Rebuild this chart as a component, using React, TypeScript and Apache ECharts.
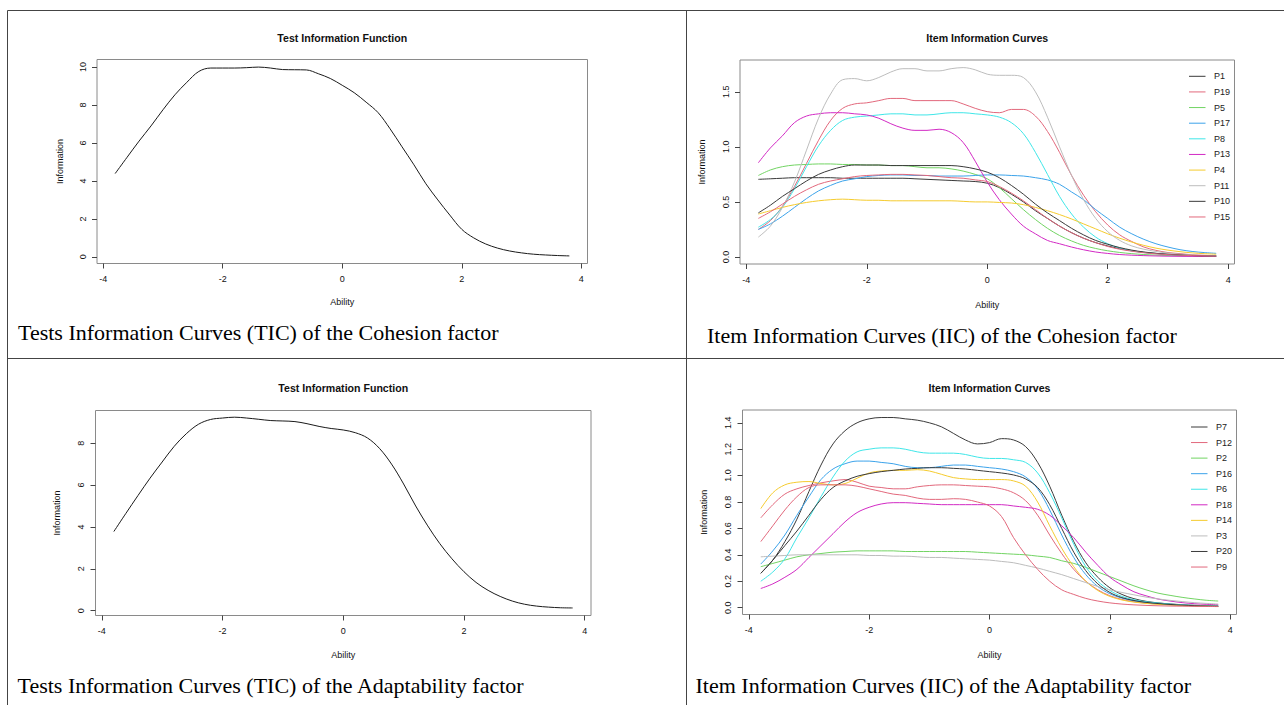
import React, { useEffect, useRef } from "react";
import * as echarts from "echarts";

// ---------- data ----------
const ability = [
  -3.8, -3.6, -3.4, -3.2, -3.0, -2.8, -2.6, -2.4, -2.2, -2.0,
  -1.8, -1.6, -1.4, -1.2, -1.0, -0.8, -0.6, -0.4, -0.2, 0.0,
  0.2, 0.4, 0.6, 0.8, 1.0, 1.2, 1.4, 1.6, 1.8, 2.0,
  2.2, 2.4, 2.6, 2.8, 3.0, 3.2, 3.4, 3.6, 3.8,
];

const xTicks = [-4, -2, 0, 2, 4];
const cohesionTicTicks = [0, 2, 4, 6, 8, 10];
const cohesionIicTicks = [0.0, 0.5, 1.0, 1.5];
const adaptTicTicks = [0, 2, 4, 6, 8];
const adaptIicTicks = [0.0, 0.2, 0.4, 0.6, 0.8, 1.0, 1.2, 1.4];

const cohesionTIC = [
  4.39, 5.25, 6.1, 6.9, 7.75, 8.54, 9.2, 9.77, 9.95, 9.95,
  9.95, 9.97, 10.0, 9.95, 9.87, 9.86, 9.85, 9.65, 9.4, 9.04,
  8.65, 8.15, 7.6, 6.75, 5.8, 4.85, 3.85, 3.0, 2.2, 1.45,
  1.0, 0.68, 0.46, 0.31, 0.21, 0.14, 0.1, 0.07, 0.05,
];

const adaptTIC = [
  3.78, 4.65, 5.5, 6.33, 7.1, 7.85, 8.45, 8.9, 9.13, 9.2,
  9.24, 9.2, 9.14, 9.08, 9.06, 9.03, 8.93, 8.8, 8.7, 8.63,
  8.5, 8.25, 7.75, 7.0, 6.05, 5.0, 4.05, 3.2, 2.48, 1.86,
  1.35, 0.97, 0.68, 0.46, 0.31, 0.22, 0.17, 0.14, 0.13,
];

// Cohesion items
const P1 = [0.705,0.71,0.715,0.72,0.72, 0.72,0.72,0.715,0.715,0.715, 0.715,0.715,0.715,0.71,0.705, 0.70,0.695,0.69,0.685,0.67, 0.63,0.57,0.50,0.42,0.35, 0.28,0.22,0.17,0.13,0.10, 0.075,0.056,0.042,0.032,0.024, 0.018,0.014,0.011,0.009];
const P19 = [0.25,0.33,0.46,0.64,0.85, 1.06,1.24,1.35,1.39,1.40, 1.42,1.44,1.44,1.42,1.42, 1.42,1.42,1.39,1.35,1.32, 1.31,1.34,1.34,1.28,1.14, 0.95,0.74,0.56,0.41,0.29, 0.20,0.14,0.09,0.06,0.04, 0.03,0.02,0.015,0.01];
const P5 = [0.74,0.79,0.82,0.835,0.84, 0.845,0.845,0.84,0.84,0.835, 0.835,0.83,0.83,0.82,0.81, 0.81,0.80,0.78,0.75,0.71, 0.63,0.53,0.43,0.34,0.26, 0.195,0.145,0.105,0.077,0.056, 0.041,0.03,0.022,0.017,0.013, 0.01,0.008,0.006,0.005];
const P17 = [0.25,0.30,0.37,0.45,0.53, 0.60,0.65,0.69,0.71,0.73, 0.74,0.745,0.745,0.74,0.74, 0.735,0.735,0.735,0.74,0.745, 0.745,0.74,0.735,0.72,0.70, 0.66,0.59,0.52,0.43,0.35, 0.27,0.21,0.16,0.12,0.09, 0.066,0.05,0.04,0.033];
const P8 = [0.27,0.34,0.45,0.62,0.82, 1.01,1.15,1.24,1.27,1.28, 1.29,1.30,1.30,1.29,1.29, 1.30,1.31,1.31,1.30,1.29, 1.27,1.22,1.12,0.95,0.75, 0.55,0.39,0.27,0.18,0.12, 0.08,0.055,0.04,0.03,0.02, 0.015,0.012,0.01,0.01];
const P13 = [0.855,0.99,1.10,1.22,1.28, 1.30,1.31,1.31,1.30,1.29, 1.26,1.21,1.17,1.15,1.15, 1.16,1.13,1.04,0.87,0.68, 0.52,0.39,0.28,0.21,0.15, 0.12,0.09,0.065,0.045,0.032, 0.022,0.016,0.012,0.009,0.007, 0.006,0.005,0.004,0.004];
const P4 = [0.39,0.42,0.45,0.475,0.495, 0.51,0.52,0.525,0.52,0.515, 0.515,0.51,0.51,0.51,0.51, 0.51,0.51,0.505,0.50,0.50, 0.495,0.49,0.475,0.45,0.42, 0.385,0.345,0.30,0.255,0.21, 0.17,0.135,0.105,0.08,0.062, 0.048,0.037,0.03,0.025];
const P11 = [0.18,0.28,0.45,0.68,0.97, 1.26,1.48,1.61,1.62,1.60, 1.63,1.68,1.71,1.71,1.69, 1.69,1.71,1.72,1.70,1.66, 1.65,1.65,1.63,1.50,1.27, 1.00,0.74,0.52,0.35,0.23, 0.15,0.10,0.07,0.05,0.035, 0.025,0.018,0.012,0.01];
const P10 = [0.40,0.47,0.55,0.62,0.69, 0.75,0.79,0.82,0.835,0.835, 0.835,0.83,0.83,0.83,0.83, 0.83,0.83,0.82,0.80,0.77, 0.72,0.65,0.57,0.48,0.40, 0.33,0.26,0.20,0.15,0.115, 0.085,0.062,0.045,0.033,0.024, 0.018,0.013,0.01,0.008];
const P15 = [0.35,0.41,0.48,0.55,0.61, 0.66,0.69,0.71,0.73,0.74, 0.745,0.75,0.75,0.745,0.74, 0.73,0.72,0.715,0.70,0.685, 0.64,0.58,0.51,0.43,0.35, 0.28,0.22,0.17,0.13,0.095, 0.07,0.052,0.038,0.028,0.021, 0.016,0.012,0.01,0.008];

// Adaptability items
const P7 = [0.26,0.36,0.50,0.67,0.88, 1.08,1.24,1.34,1.40,1.43, 1.44,1.44,1.43,1.42,1.40, 1.37,1.32,1.27,1.24,1.25, 1.28,1.27,1.22,1.10,0.92, 0.70,0.50,0.34,0.23,0.15, 0.10,0.068,0.048,0.036,0.028, 0.022,0.018,0.015,0.012];
const P12 = [0.68,0.78,0.86,0.90,0.925, 0.945,0.96,0.97,0.95,0.92, 0.91,0.90,0.90,0.915,0.925, 0.93,0.93,0.925,0.92,0.915, 0.90,0.87,0.81,0.70,0.55, 0.41,0.29,0.20,0.135,0.09, 0.062,0.045,0.034,0.027,0.022, 0.018,0.015,0.013,0.011];
const P2 = [0.31,0.335,0.36,0.385,0.40, 0.41,0.42,0.425,0.43,0.43, 0.43,0.43,0.425,0.425,0.425, 0.425,0.425,0.425,0.42,0.415, 0.41,0.405,0.40,0.39,0.38, 0.355,0.335,0.305,0.27,0.235, 0.20,0.165,0.135,0.11,0.093, 0.078,0.066,0.056,0.05];
const P16 = [0.33,0.43,0.55,0.70,0.84, 0.97,1.05,1.09,1.11,1.11, 1.10,1.09,1.07,1.06,1.06, 1.07,1.08,1.08,1.07,1.06, 1.05,1.03,0.99,0.90,0.74, 0.55,0.38,0.25,0.16,0.105, 0.072,0.052,0.039,0.03,0.023, 0.018,0.014,0.012,0.01];
const P6 = [0.20,0.27,0.37,0.53,0.68, 0.84,0.99,1.11,1.18,1.20, 1.21,1.21,1.20,1.18,1.17, 1.17,1.17,1.16,1.14,1.13, 1.13,1.12,1.10,1.02,0.87, 0.68,0.48,0.31,0.20,0.13, 0.085,0.06,0.045,0.035,0.027, 0.021,0.017,0.014,0.012];
const P18 = [0.145,0.18,0.23,0.29,0.38, 0.47,0.56,0.65,0.72,0.76, 0.785,0.795,0.795,0.79,0.785, 0.78,0.78,0.78,0.78,0.78, 0.78,0.77,0.76,0.745,0.70, 0.62,0.53,0.42,0.32,0.23, 0.17,0.12,0.09,0.065,0.05, 0.038,0.03,0.025,0.022];
const P14 = [0.75,0.87,0.93,0.95,0.955, 0.94,0.93,0.94,0.98,1.02, 1.035,1.04,1.04,1.045,1.035, 1.01,0.985,0.975,0.97,0.97, 0.97,0.96,0.92,0.80,0.62, 0.45,0.31,0.20,0.13,0.085, 0.058,0.042,0.032,0.025,0.02, 0.016,0.013,0.011,0.009];
const P3 = [0.385,0.39,0.395,0.40,0.40, 0.40,0.40,0.40,0.40,0.395, 0.395,0.39,0.39,0.385,0.38, 0.38,0.375,0.37,0.365,0.36, 0.35,0.34,0.32,0.30,0.275, 0.25,0.22,0.19,0.16,0.135, 0.115,0.097,0.08,0.066,0.055, 0.046,0.038,0.032,0.027];
const P20 = [0.26,0.36,0.47,0.58,0.70, 0.82,0.91,0.96,0.995,1.015, 1.03,1.04,1.05,1.055,1.06, 1.06,1.055,1.05,1.04,1.03, 1.02,1.005,0.975,0.91,0.78, 0.60,0.42,0.28,0.18,0.115, 0.076,0.054,0.04,0.031,0.024, 0.019,0.015,0.012,0.01];
const P9 = [0.50,0.62,0.74,0.84,0.91, 0.93,0.93,0.93,0.92,0.90, 0.88,0.86,0.85,0.83,0.82, 0.82,0.825,0.82,0.80,0.77, 0.69,0.53,0.40,0.29,0.20, 0.135,0.10,0.07,0.05,0.036, 0.027,0.021,0.017,0.014,0.012, 0.011,0.01,0.009,0.008];

const cohesionItemNames = ["P1", "P19", "P5", "P17", "P8", "P13", "P4", "P11", "P10", "P15"];
const cohesionItemValues = [P1, P19, P5, P17, P8, P13, P4, P11, P10, P15];
const adaptItemNames = ["P7", "P12", "P2", "P16", "P6", "P18", "P14", "P3", "P20", "P9"];
const adaptItemValues = [P7, P12, P2, P16, P6, P18, P14, P3, P20, P9];

// R default palette (slightly softened, as rendered)
const palette = ["#3a3a3a", "#E2687C", "#72D463", "#3CA3EA", "#3FE6E8", "#D22AC4", "#F5CB2E", "#BDBDBD"];

const W = 1284;
const H = 705;
const SANS = "'Liberation Sans', Arial, Helvetica, sans-serif";
const SERIF = "'Liberation Serif', 'Times New Roman', serif";

export default function App() {
  const ref = useRef<HTMLDivElement>(null);

  useEffect(() => {
    if (!ref.current) return;
    const chart = echarts.init(ref.current, null, { renderer: "svg", width: W, height: H });

    const boxes = [
      { left: 97, top: 59.5, width: 490.5, height: 204 },
      { left: 740, top: 60, width: 494.5, height: 204 },
      { left: 95.5, top: 410.5, width: 495.5, height: 205 },
      { left: 742.5, top: 410, width: 494, height: 204.5 },
    ];
    const yRanges = [
      [-0.35, 10.4],
      [-0.064, 1.789],
      [-0.23, 9.56],
      [-0.052, 1.497],
    ];
    const yTicks = [cohesionTicTicks, cohesionIicTicks, adaptTicTicks, adaptIicTicks];
    const yFmt = [
      (v: number) => String(v),
      (v: number) => v.toFixed(1),
      (v: number) => String(v),
      (v: number) => v.toFixed(1),
    ];

    const grid = boxes.map((b) => ({
      ...b,
      show: true,
      borderColor: "#8a8a8a",
      borderWidth: 1,
      backgroundColor: "transparent",
      containLabel: false,
    }));

    const xAxis = boxes.map((_, i) => ({
      type: "value",
      gridIndex: i,
      position: "bottom",
      min: -4.104,
      max: 4.104,
      axisLine: { show: false, onZero: false },
      splitLine: { show: false },
      axisTick: {
        show: true,
        length: 5,
        customValues: xTicks,
        lineStyle: { color: "#444", width: 1 },
      },
      axisLabel: {
        show: true,
        customValues: xTicks,
        margin: 11,
        fontSize: 9,
        color: "#111",
        fontFamily: SANS,
        formatter: (v: number) => String(v),
      },
    }));

    const yAxis = boxes.map((_, i) => ({
      type: "value",
      gridIndex: i,
      position: "left",
      min: yRanges[i][0],
      max: yRanges[i][1],
      axisLine: { show: false, onZero: false },
      splitLine: { show: false },
      axisTick: {
        show: true,
        length: 5,
        customValues: yTicks[i],
        lineStyle: { color: "#444", width: 1 },
      },
      axisLabel: {
        show: true,
        customValues: yTicks[i],
        rotate: 90,
        margin: 10,
        fontSize: 9,
        color: "#111",
        fontFamily: SANS,
        formatter: yFmt[i],
      },
    }));

    const toPairs = (vals: number[]) => ability.map((x, k) => [x, vals[k]]);

    const lineSeries = (name: string, vals: number[], idx: number, color: string, width = 1) => ({
      type: "line",
      name,
      xAxisIndex: idx,
      yAxisIndex: idx,
      data: toPairs(vals),
      showSymbol: false,
      symbol: "none",
      smooth: 0.35,
      silent: true,
      lineStyle: { color, width },
      itemStyle: { color },
      z: 3,
    });

    const series: any[] = [];
    series.push(lineSeries("Cohesion test information", cohesionTIC, 0, "#1a1a1a", 1));
    cohesionItemNames.forEach((n, k) =>
      series.push(lineSeries(n, cohesionItemValues[k], 1, palette[k % palette.length]))
    );
    series.push(lineSeries("Adaptability test information", adaptTIC, 2, "#1a1a1a", 1));
    adaptItemNames.forEach((n, k) =>
      series.push(lineSeries(n, adaptItemValues[k], 3, palette[k % palette.length]))
    );

    const graphic: any[] = [];
    const tableLine = (x1: number, y1: number, x2: number, y2: number) => ({
      type: "line",
      shape: { x1, y1, x2, y2 },
      style: { stroke: "#444", lineWidth: 1 },
      silent: true,
    });
    graphic.push(tableLine(7.5, 10.5, W, 10.5));
    graphic.push(tableLine(7.5, 10.5, 7.5, H));
    graphic.push(tableLine(686.5, 10.5, 686.5, H));
    graphic.push(tableLine(7.5, 358.5, W, 358.5));

    const titles = [
      { text: "Test Information Function", y: 37.7 },
      { text: "Item Information Curves", y: 37.7 },
      { text: "Test Information Function", y: 388.3 },
      { text: "Item Information Curves", y: 388.3 },
    ];
    const abilityY = [302, 305, 655, 655];
    const infoX = [60, 702, 57, 704];

    boxes.forEach((b, i) => {
      const cx = b.left + b.width / 2;
      const cy = b.top + b.height / 2;
      graphic.push({
        type: "text",
        x: cx,
        y: titles[i].y,
        silent: true,
        style: {
          text: titles[i].text,
          fontSize: 10.6,
          fontWeight: "bold",
          fontFamily: SANS,
          fill: "#111",
          align: "center",
          verticalAlign: "middle",
        },
      });
      graphic.push({
        type: "text",
        x: cx,
        y: abilityY[i],
        silent: true,
        style: {
          text: "Ability",
          fontSize: 9,
          fontFamily: SANS,
          fill: "#111",
          align: "center",
          verticalAlign: "middle",
        },
      });
      graphic.push({
        type: "text",
        x: infoX[i],
        y: cy,
        rotation: Math.PI / 2,
        silent: true,
        style: {
          text: "Information",
          fontSize: 9,
          fontFamily: SANS,
          fill: "#111",
          align: "center",
          verticalAlign: "middle",
        },
      });
    });

    // legends
    const legendSpec = [
      { names: cohesionItemNames, x1: 1189, x2: 1205.5, tx: 1214, y0: 76.3, step: 15.63 },
      { names: adaptItemNames, x1: 1191, x2: 1207.5, tx: 1216, y0: 427, step: 15.56 },
    ];
    legendSpec.forEach((L) => {
      L.names.forEach((n, k) => {
        const y = L.y0 + k * L.step;
        graphic.push({
          type: "line",
          shape: { x1: L.x1, y1: y, x2: L.x2, y2: y },
          style: { stroke: palette[k % palette.length], lineWidth: 1 },
          silent: true,
        });
        graphic.push({
          type: "text",
          x: L.tx,
          y,
          silent: true,
          style: {
            text: n,
            fontSize: 9,
            fontFamily: SANS,
            fill: "#222",
            align: "left",
            verticalAlign: "middle",
          },
        });
      });
    });

    // captions
    const captions = [
      { text: "Tests Information Curves (TIC) of the Cohesion factor", x: 18, y: 332 },
      { text: "Item Information Curves (IIC) of the Cohesion factor", x: 707, y: 335 },
      { text: "Tests Information Curves (TIC) of the Adaptability factor", x: 17.5, y: 685 },
      { text: "Item Information Curves (IIC) of the Adaptability factor", x: 695.5, y: 685 },
    ];
    captions.forEach((c) =>
      graphic.push({
        type: "text",
        x: c.x,
        y: c.y,
        silent: true,
        style: {
          text: c.text,
          fontSize: 22,
          fontFamily: SERIF,
          fill: "#000",
          align: "left",
          verticalAlign: "middle",
        },
      })
    );

    chart.setOption({
      animation: false,
      backgroundColor: "#ffffff",
      grid,
      xAxis,
      yAxis,
      series,
      graphic,
    });

    return () => {
      chart.dispose();
    };
  }, []);

  return (
    <div
      ref={ref}
      style={{ position: "fixed", left: 0, top: 0, width: W, height: H, background: "#fff" }}
    />
  );
}
